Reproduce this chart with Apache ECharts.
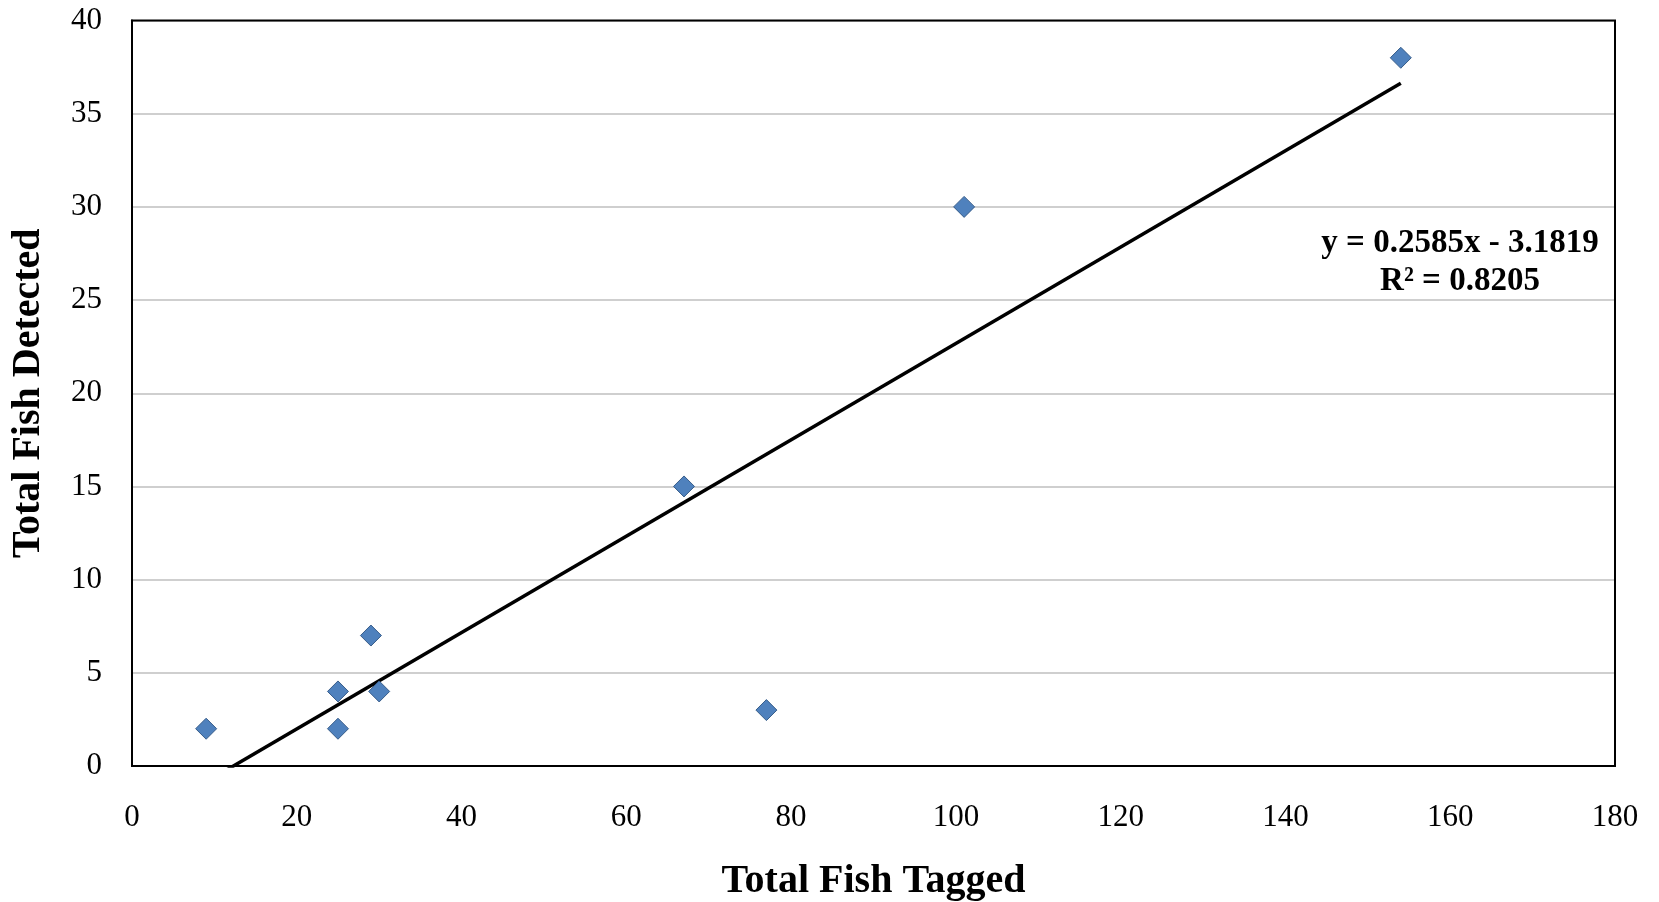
<!DOCTYPE html>
<html>
<head>
<meta charset="utf-8">
<script src="https://cdn.jsdelivr.net/npm/echarts@6/dist/echarts.min.js"></script>
<style>
html,body{margin:0;padding:0;background:#fff;}
#chart{width:1659px;height:902px;}
</style>
</head>
<body>
<div id="chart"></div>
<script>
// Data
const fishTagged   = [9, 25, 25, 29, 30, 67, 77, 101, 154];
const fishDetected = [2, 4, 2, 7, 4, 15, 3, 30, 38];
// Linear trend line (Excel) coefficients as printed on the chart
const slope = 0.2585;
const intercept = -3.1819;
const rSquared = 0.8205;
const xTicks = [0, 20, 40, 60, 80, 100, 120, 140, 160, 180];
const yTicks = [0, 5, 10, 15, 20, 25, 30, 35, 40];

const points = fishTagged.map((x, i) => [x, fishDetected[i]]);
const xMinData = Math.min(...fishTagged);
const xMaxData = Math.max(...fishTagged);
const trend = [[xMinData, slope * xMinData + intercept], [xMaxData, slope * xMaxData + intercept]];

const FONT = '"Liberation Serif", "DejaVu Serif", serif';
const chart = echarts.init(document.getElementById('chart'));
chart.setOption({
  animation: false,
  backgroundColor: '#ffffff',
  grid: {
    left: 132, right: 44, top: 20.5, bottom: 136,
    outerBoundsMode: 'none', containLabel: false,
    show: true, borderColor: '#000', borderWidth: 2, backgroundColor: 'transparent', z: 5
  },
  xAxis: {
    type: 'value', min: xTicks[0], max: xTicks[xTicks.length - 1], interval: 20,
    name: 'Total Fish Tagged', nameLocation: 'middle', nameGap: 96,
    nameTextStyle: { fontFamily: FONT, fontWeight: 'bold', fontSize: 40, color: '#000' },
    axisLine: { show: true, lineStyle: { color: '#000', width: 2 } },
    axisTick: { show: false },
    splitLine: { show: false },
    axisLabel: { fontFamily: FONT, fontSize: 31, color: '#000', margin: 36 }
  },
  yAxis: {
    type: 'value', min: yTicks[0], max: yTicks[yTicks.length - 1], interval: 5,
    name: 'Total Fish Detected', nameLocation: 'middle', nameGap: 83,
    nameTextStyle: { fontFamily: FONT, fontWeight: 'bold', fontSize: 40, color: '#000' },
    axisLine: { show: true, lineStyle: { color: '#000', width: 2 } },
    axisTick: { show: false },
    splitLine: { show: true, lineStyle: { color: '#BFBFBF', width: 1.5 } },
    axisLabel: { fontFamily: FONT, fontSize: 31, color: '#000', margin: 30 }
  },
  series: [
    {
      type: 'line', data: trend, symbol: 'none', clip: true, z: 2,
      lineStyle: { color: '#000', width: 3.5 }
    },
    {
      type: 'scatter', data: points, symbol: 'diamond', symbolSize: [21, 21], z: 3,
      itemStyle: { color: '#4F81BD', borderColor: '#385D8A', borderWidth: 1, opacity: 1 }
    }
  ],
  graphic: [
    {
      type: 'text', x: 1460, y: 224, z: 10,
      style: {
        text: 'y = ' + slope.toFixed(4) + 'x - ' + Math.abs(intercept).toFixed(4) + '\nR² = ' + rSquared.toFixed(4),
        fontFamily: FONT, fontWeight: 'bold', fontSize: 33, lineHeight: 38,
        fill: '#000', align: 'center', verticalAlign: 'top'
      }
    }
  ]
});
</script>
</body>
</html>
